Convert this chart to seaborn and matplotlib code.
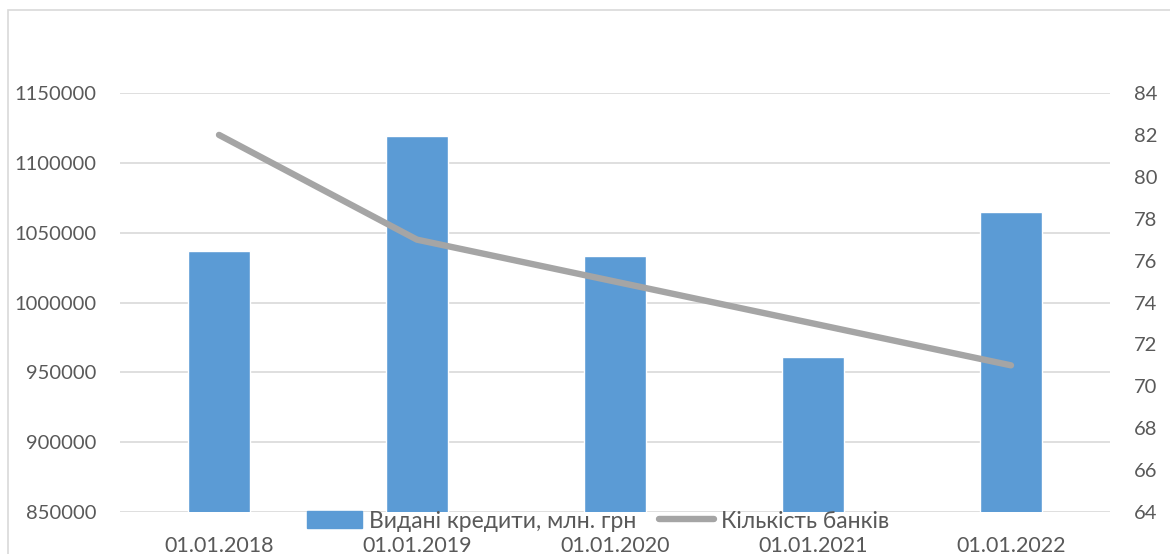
import numpy as np
import pandas as pd
import matplotlib
matplotlib.use("Agg")
import matplotlib.pyplot as plt
from matplotlib.patches import Rectangle
from matplotlib.lines import Line2D
import seaborn as sns

# Data
dates = ["01.01.2018", "01.01.2019", "01.01.2020", "01.01.2021", "01.01.2022"]
loans = [1037000, 1119000, 1033000, 961000, 1065000]   # Видані кредити, млн. грн
banks = [82, 77, 75, 73, 71]                           # Кількість банків
left_ticks = [850000, 900000, 950000, 1000000, 1050000, 1100000, 1150000]
right_ticks = [64, 66, 68, 70, 72, 74, 76, 78, 80, 82, 84]

loan_label = "Видані кредити, млн. грн"
bank_label = "Кількість банків"

BAR = "#5B9BD5"
LINE = "#A5A5A5"
GRID = "#D9D9D9"
TEXT = "#595959"

sns.set_theme(style="white")
plt.rcParams["font.family"] = ["Lato", "DejaVu Sans"]

df = pd.DataFrame({"date": dates, "loans": loans, "banks": banks})

W, H = 1170, 554
fig = plt.figure(figsize=(W / 100, H / 100), dpi=100)
ax = fig.add_axes([120 / W, 1 - 512 / H, (1110 - 120) / W, (512 - 93) / H])

sns.barplot(data=df, x="date", y="loans", color=BAR, width=0.31,
            saturation=1, ax=ax, zorder=2)
ax.set_ylim(850000, 1150000)
ax.set_yticks(left_ticks)
ax.set_yticklabels([str(v) for v in left_ticks])
ax.set_xlim(-0.5, len(dates) - 0.5)
ax.set_xlabel("")
ax.set_ylabel("")
for v in left_ticks:
    ax.axhline(v, color=GRID, lw=1.2, zorder=0)
for s in ax.spines.values():
    s.set_visible(False)
ax.tick_params(axis="y", length=0, pad=17, labelsize=14.5, labelcolor=TEXT)
ax.tick_params(axis="x", length=0, pad=17, labelsize=15.5, labelcolor=TEXT)

ax2 = ax.twinx()
sns.lineplot(x=np.arange(len(dates)), y=banks, color=LINE, lw=4.6,
             ax=ax2, solid_capstyle="round", zorder=3)
ax2.set_ylim(64, 84)
ax2.set_yticks(right_ticks)
ax2.set_ylabel("")
ax2.grid(False)
for s in ax2.spines.values():
    s.set_visible(False)
ax2.tick_params(axis="y", length=0, pad=17, labelsize=14.5, labelcolor=TEXT)

# Legend below the plot area
handles = [Rectangle((0, 0), 1, 1, color=BAR),
           Line2D([0], [0], color=LINE, lw=4.6, solid_capstyle="round")]
fig.legend(handles, [loan_label, bank_label], loc="center",
           bbox_to_anchor=(598 / W, 1 - 521 / H), ncol=2, frameon=False,
           fontsize=16.5, labelcolor=TEXT, handlelength=2.4, handleheight=0.7,
           handletextpad=0.3, columnspacing=1.0, borderpad=0, borderaxespad=0)

# Chart frame
fig.patches.append(Rectangle((8 / W, -0.1), 1.2, 1 - 10 / H + 0.1,
                             transform=fig.transFigure, fill=False,
                             edgecolor=GRID, lw=1.2))

fig.savefig("out.png", dpi=100)
